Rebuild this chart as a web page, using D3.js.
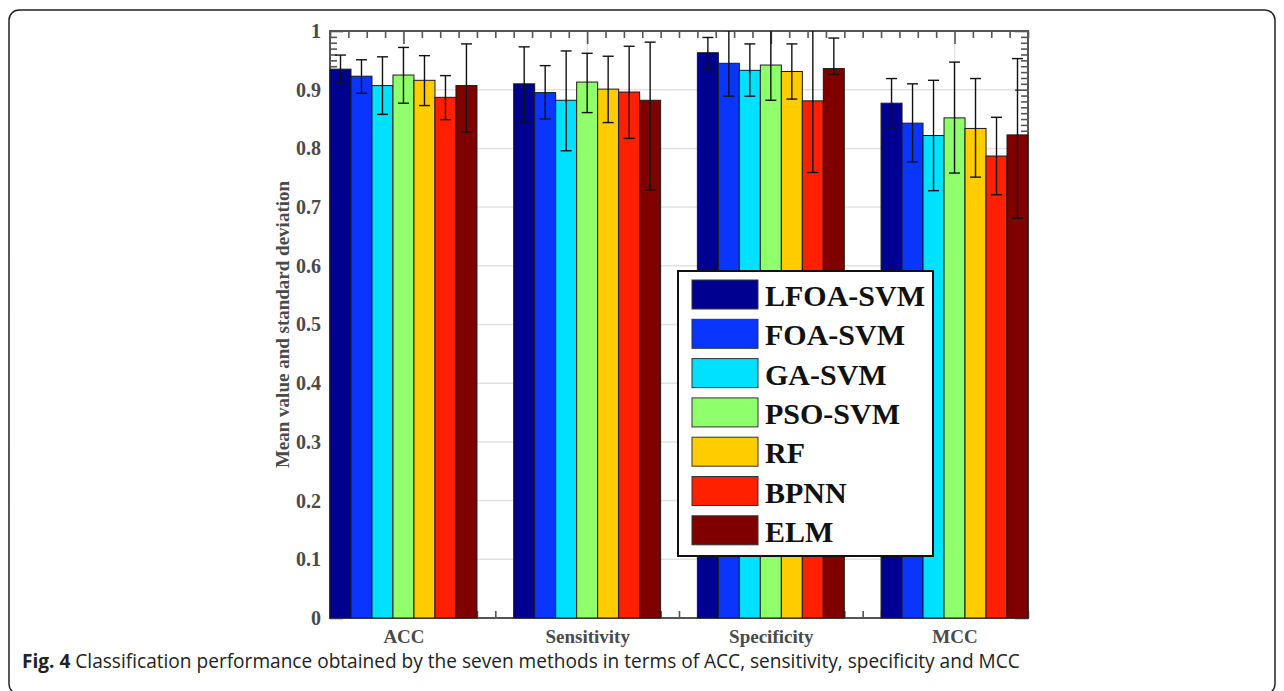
<!DOCTYPE html>
<html>
<head>
<meta charset="utf-8">
<script src="https://cdn.jsdelivr.net/npm/d3@7"></script>
<style>
  body { margin: 0; background: #fff; }
  svg { display: block; }
</style>
</head>
<body>
<svg width="1284" height="691"></svg>
<script>
const metrics = ['ACC', 'Sensitivity', 'Specificity', 'MCC'];
const methods = ['LFOA-SVM', 'FOA-SVM', 'GA-SVM', 'PSO-SVM', 'RF', 'BPNN', 'ELM'];
const colors = ['#000090', '#0a35ff', '#00e0ff', '#90ff6c', '#ffcc00', '#ff2000', '#800000'];

// mean value per method, in metric order
const meanLFOA = [0.935, 0.910, 0.963, 0.877];
const meanFOA = [0.923, 0.895, 0.945, 0.843];
const meanGA = [0.907, 0.882, 0.933, 0.822];
const meanPSO = [0.925, 0.913, 0.942, 0.852];
const meanRF = [0.916, 0.901, 0.931, 0.834];
const meanBPNN = [0.887, 0.896, 0.881, 0.787];
const meanELM = [0.907, 0.882, 0.936, 0.823];

// error bar lengths (below / above the mean)
const errLow = [
  [0.022, 0.065, 0.028, 0.042],
  [0.029, 0.045, 0.056, 0.066],
  [0.049, 0.086, 0.044, 0.094],
  [0.048, 0.052, 0.060, 0.094],
  [0.043, 0.057, 0.047, 0.083],
  [0.038, 0.079, 0.122, 0.066],
  [0.079, 0.153, 0.010, 0.142]
];
const errHigh = [
  [0.024, 0.063, 0.026, 0.042],
  [0.028, 0.046, 0.056, 0.067],
  [0.049, 0.084, 0.045, 0.094],
  [0.047, 0.049, 0.060, 0.095],
  [0.042, 0.056, 0.047, 0.085],
  [0.037, 0.078, 0.122, 0.066],
  [0.071, 0.099, 0.052, 0.130]
];
const means = [meanLFOA, meanFOA, meanGA, meanPSO, meanRF, meanBPNN, meanELM];

const yTicks = d3.range(0, 11).map(d => d / 10);

const svg = d3.select('svg');
const plot = { left: 330, right: 1028, top: 31, bottom: 618 };

// frame round the figure
svg.append('rect')
  .attr('x', 9).attr('y', 10)
  .attr('width', 1266).attr('height', 684)
  .attr('rx', 10)
  .attr('fill', 'none')
  .attr('stroke', '#222')
  .attr('stroke-width', 1.5);

const x = d3.scaleLinear().domain([0.6, 4.4]).range([plot.left, plot.right]);
const y = d3.scaleLinear().domain([0, 1]).range([plot.bottom, plot.top]);
const xSub = d3.scaleBand().domain(methods).range([-0.4, 0.4]);

const rows = [];
methods.forEach((m, j) => {
  metrics.forEach((k, i) => {
    rows.push({
      method: m, metric: k, pos: i + 1, color: colors[j],
      mean: means[j][i], lo: errLow[j][i], hi: errHigh[j][i]
    });
  });
});

svg.append('clipPath').attr('id', 'clip')
  .append('rect')
  .attr('x', plot.left).attr('y', plot.top)
  .attr('width', plot.right - plot.left).attr('height', plot.bottom - plot.top);

// grid
const grid = svg.append('g');
grid.selectAll('line.h')
  .data(yTicks.slice(1, 10))
  .join('line')
  .attr('x1', plot.left).attr('x2', plot.right)
  .attr('y1', d => y(d)).attr('y2', d => y(d))
  .attr('stroke', '#e2e2e2').attr('stroke-width', 1.5);
grid.selectAll('line.v')
  .data([1, 2, 3, 4])
  .join('line')
  .attr('x1', d => x(d)).attr('x2', d => x(d))
  .attr('y1', plot.top).attr('y2', plot.bottom)
  .attr('stroke', '#e2e2e2').attr('stroke-width', 1.5);

// inward ticks on all four sides (drawn under the bars)
const xMinor = d3.range(6, 45).map(d => d / 10).filter(d => Math.abs(d - Math.round(d)) > 1e-6);
const xMajor = [1, 2, 3, 4];
const yMinor = d3.range(0, 101).map(d => d / 100).filter(d => Math.abs(d * 10 - Math.round(d * 10)) > 1e-6);

const tickStyle = g => {
  g.select('.domain').remove();
  g.selectAll('line').attr('stroke', '#555').attr('stroke-width', 1.6);
  g.selectAll('text').remove();
};

[[xMinor, 7], [xMajor, 13]].forEach(([vals, size]) => {
  svg.append('g').attr('transform', `translate(0,${plot.top})`)
    .call(d3.axisBottom(x).tickValues(vals).tickSize(size)).call(tickStyle);
  svg.append('g').attr('transform', `translate(0,${plot.bottom})`)
    .call(d3.axisTop(x).tickValues(vals).tickSize(size)).call(tickStyle);
});
[[yMinor, 7], [yTicks, 13]].forEach(([vals, size]) => {
  svg.append('g').attr('transform', `translate(${plot.left},0)`)
    .call(d3.axisRight(y).tickValues(vals).tickSize(size)).call(tickStyle);
  svg.append('g').attr('transform', `translate(${plot.right},0)`)
    .call(d3.axisLeft(y).tickValues(vals).tickSize(size)).call(tickStyle);
});

// box
svg.append('rect')
  .attr('x', plot.left).attr('y', plot.top)
  .attr('width', plot.right - plot.left).attr('height', plot.bottom - plot.top)
  .attr('fill', 'none').attr('stroke', '#555').attr('stroke-width', 2);

// bars
svg.append('g')
  .selectAll('rect')
  .data(rows)
  .join('rect')
  .attr('x', d => x(d.pos + xSub(d.method)))
  .attr('width', d => x(d.pos + xSub(d.method) + xSub.bandwidth()) - x(d.pos + xSub(d.method)))
  .attr('y', d => y(d.mean))
  .attr('height', d => y(0) - y(d.mean))
  .attr('fill', d => d.color)
  .attr('stroke', '#1a1a1a')
  .attr('stroke-width', 1);

// error bars
const eb = svg.append('g').attr('clip-path', 'url(#clip)')
  .attr('stroke', '#111').attr('stroke-width', 1.4);
const cx = d => x(d.pos + xSub(d.method) + xSub.bandwidth() / 2);
const capW = 5.5;
eb.selectAll('line.stem').data(rows).join('line')
  .attr('x1', cx).attr('x2', cx)
  .attr('y1', d => y(d.mean + d.hi)).attr('y2', d => y(d.mean - d.lo));
eb.selectAll('line.top').data(rows).join('line')
  .attr('x1', d => cx(d) - capW).attr('x2', d => cx(d) + capW)
  .attr('y1', d => y(d.mean + d.hi)).attr('y2', d => y(d.mean + d.hi));
eb.selectAll('line.bot').data(rows).join('line')
  .attr('x1', d => cx(d) - capW).attr('x2', d => cx(d) + capW)
  .attr('y1', d => y(d.mean - d.lo)).attr('y2', d => y(d.mean - d.lo));

// axis labels
const serif = '"Liberation Serif", "Times New Roman", serif';
svg.append('g').attr('transform', `translate(${plot.left},0)`)
  .call(d3.axisLeft(y).tickValues(yTicks).tickSize(0).tickPadding(9).tickFormat(d3.format('')))
  .call(g => g.select('.domain').remove())
  .selectAll('text')
  .attr('font-family', serif).attr('font-weight', 'bold').attr('font-size', 20)
  .attr('fill', '#4a4a4a');

svg.append('g').attr('transform', `translate(0,${plot.bottom})`)
  .call(d3.axisBottom(x).tickValues(xMajor).tickSize(0).tickPadding(12).tickFormat(d => metrics[d - 1]))
  .call(g => g.select('.domain').remove())
  .selectAll('text')
  .attr('font-family', serif).attr('font-weight', 'bold').attr('font-size', 19)
  .attr('fill', '#4a4a4a');

svg.append('text')
  .attr('transform', `translate(289,${(plot.top + plot.bottom) / 2}) rotate(-90)`)
  .attr('text-anchor', 'middle')
  .attr('font-family', serif).attr('font-weight', 'bold').attr('font-size', 19)
  .attr('fill', '#4a4a4a')
  .text('Mean value and standard deviation');

// legend
const legend = svg.append('g').attr('transform', 'translate(678,271)');
legend.append('rect')
  .attr('width', 255).attr('height', 285)
  .attr('fill', '#fff').attr('stroke', '#111').attr('stroke-width', 2);
const item = legend.selectAll('g.item').data(methods).join('g')
  .attr('transform', (d, i) => `translate(14,${9 + i * 39.3})`);
item.append('rect')
  .attr('width', 66).attr('height', 29)
  .attr('fill', (d, i) => colors[i])
  .attr('stroke', '#333').attr('stroke-width', 1);
item.append('text')
  .attr('x', 73).attr('y', 26)
  .attr('font-family', serif).attr('font-weight', 'bold').attr('font-size', 30)
  .attr('fill', '#111')
  .text(d => d);

// caption
const cap = svg.append('text')
  .attr('x', 22).attr('y', 668)
  .attr('font-family', '"Open Sans", sans-serif').attr('font-size', 18)
  .attr('fill', '#222');
cap.append('tspan').attr('font-weight', 'bold').text('Fig. 4');
cap.append('tspan').text(' Classification performance obtained by the seven methods in terms of ACC, sensitivity, specificity and MCC');
const len = cap.node().getComputedTextLength();
cap.attr('font-size', 18 * 998 / len);
</script>
</body>
</html>
